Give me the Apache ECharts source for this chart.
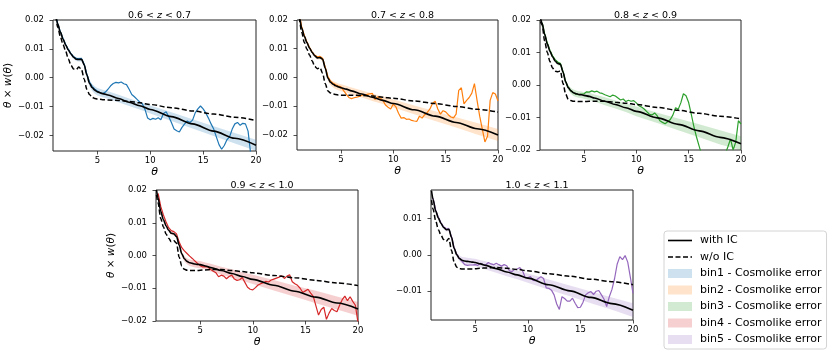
<!DOCTYPE html>
<html><head><meta charset="utf-8">
<script src="https://cdn.jsdelivr.net/npm/echarts@6/dist/echarts.min.js"></script>
<style>html,body{margin:0;padding:0;background:#fff}#c{width:831px;height:356px}</style>
</head><body><div id="c"></div>
<script>
// model theta grid
const T = [0.85,1,1.25,1.5,1.75,2,2.25,2.5,2.75,3,3.25,3.5,3.75,4,4.25,4.5,4.75,5,5.5,6,7,8,9,10,12,14,16,18,20];
// data theta grid
const thetaD = [1,1.25,1.5,1.75, 2,2.25,2.5,2.75, 3,3.25,3.5,3.75, 4,4.25,4.5,4.75, 5,5.25,5.5,5.75,
  6,6.25,6.5,6.75, 7,7.25,7.5,7.75, 8,8.25,8.5,8.75, 9,9.25,9.5,9.75, 10,10.25,10.5,10.75,
  11,11.25,11.5,11.75, 12,12.25,12.5,12.75, 13,13.25,13.5,13.75, 14,14.25,14.5,14.75,
  15,15.25,15.5,15.75, 16,16.25,16.5,16.75, 17,17.25,17.5,17.75, 18,18.25,18.5,18.75,
  19,19.25,19.5,19.75, 20];

const withIC1 = [0.0270,0.0225,0.0186,0.0158,0.0134,0.0113,0.0096,0.0082,0.0071,0.0064,0.0063,0.0064,0.0045,0.0010,-0.0019,-0.0034,-0.0043,-0.0049,-0.0055,-0.0060,-0.0072,-0.0085,-0.0097,-0.0110,-0.0135,-0.0160,-0.0185,-0.0210,-0.0234];
const noIC1   = [0.0265,0.0222,0.0175,0.0142,0.0115,0.0092,0.0065,0.0043,0.0030,0.0029,0.0037,0.0028,-0.0005,-0.0040,-0.0058,-0.0068,-0.0072,-0.0074,-0.0076,-0.0077,-0.0079,-0.0082,-0.0087,-0.0093,-0.0104,-0.0115,-0.0126,-0.0137,-0.0148];
const err1    = [0.0003,0.0003,0.0003,0.0003,0.0004,0.0004,0.0005,0.0005,0.0006,0.0006,0.0007,0.0008,0.0009,0.0010,0.0011,0.0012,0.0013,0.0013,0.0013,0.0013,0.0013,0.0013,0.0013,0.0014,0.0015,0.0016,0.0017,0.0018,0.0019];
const bin1 = [0.0225,0.0187,0.0159,0.0136, 0.0115,0.0098,0.0083,0.0073, 0.0067,0.0066,0.0066,0.0047, 0.0012,-0.0015,-0.0030,-0.0040,
  -0.0046,-0.0052,-0.0055,-0.0050, -0.0040,-0.0028,-0.0020,-0.0016, -0.0018,-0.0015,-0.0021,-0.0024, -0.0040,-0.0058,-0.0066,-0.0075,
  -0.0084,-0.0090,-0.0110,-0.0140, -0.0146,-0.0141,-0.0144,-0.0139, -0.0146,-0.0124,-0.0118,-0.0135, -0.0155,-0.0178,-0.0184,-0.0188,
  -0.0172,-0.0160,-0.0150,-0.0155, -0.0147,-0.0122,-0.0108,-0.0098, -0.0108,-0.0122,-0.0140,-0.0160, -0.0178,-0.0205,-0.0232,-0.0248,
  -0.0235,-0.0215,-0.0205,-0.0178, -0.0160,-0.0155,-0.0165,-0.0158, -0.0160,-0.0185,-0.0265,null, null];

const withIC2 = [0.0240,0.0215,0.0172,0.0143,0.0121,0.0102,0.0087,0.0075,0.0068,0.0069,0.0063,0.0032,-0.0002,-0.0017,-0.0024,-0.0029,-0.0033,-0.0036,-0.0041,-0.0047,-0.0058,-0.0069,-0.0080,-0.0091,-0.0113,-0.0135,-0.0157,-0.0179,-0.0201];
const noIC2   = [0.0235,0.0205,0.0157,0.0122,0.0098,0.0078,0.0057,0.0038,0.0030,0.0034,0.0014,-0.0022,-0.0047,-0.0054,-0.0058,-0.0060,-0.0061,-0.0062,-0.0062,-0.0062,-0.0063,-0.0065,-0.0069,-0.0073,-0.0082,-0.0091,-0.0101,-0.0111,-0.0121];
const err2    = [0.0003,0.0003,0.0003,0.0003,0.0004,0.0004,0.0005,0.0005,0.0006,0.0006,0.0007,0.0008,0.0009,0.0010,0.0011,0.0012,0.0012,0.0012,0.0012,0.0012,0.0012,0.0013,0.0013,0.0014,0.0015,0.0017,0.0018,0.0020,0.0021];
const bin2 = [0.0225,0.0176,0.0146,0.0123, 0.0104,0.0088,0.0077,0.0072, 0.0073,0.0066,0.0036,0.0003, -0.0013,-0.0020,-0.0026,-0.0030,
  -0.0033,-0.0046,-0.0058,-0.0070, -0.0074,-0.0071,-0.0069,-0.0066, -0.0062,-0.0060,-0.0059,-0.0057, -0.0056,-0.0077,-0.0068,-0.0072,
  -0.0080,-0.0096,-0.0104,-0.0110, -0.0093,-0.0103,-0.0125,-0.0142, -0.0140,-0.0146,-0.0145,-0.0150, -0.0152,-0.0153,-0.0135,-0.0142,
  -0.0130,-0.0122,-0.0110,-0.0090, -0.0083,-0.0110,-0.0128,-0.0116, -0.0120,-0.0130,-0.0138,-0.0141, -0.0128,-0.0045,-0.0036,-0.0092,
  -0.0080,-0.0070,-0.0055,-0.0022, -0.0080,-0.0135,-0.0180,-0.0225, -0.0205,-0.0080,-0.0053,-0.0058, -0.0082];

const withIC3 = [0.0205,0.0190,0.0155,0.0126,0.0104,0.0087,0.0074,0.0066,0.0064,0.0040,0.0010,-0.0008,-0.0018,-0.0024,-0.0027,-0.0029,-0.0030,-0.0032,-0.0035,-0.0040,-0.0050,-0.0060,-0.0070,-0.0081,-0.0101,-0.0121,-0.0141,-0.0161,-0.0181];
const noIC3   = [0.0195,0.0185,0.0135,0.0100,0.0072,0.0052,0.0042,0.0041,0.0043,0.0005,-0.0028,-0.0044,-0.0048,-0.0050,-0.0050,-0.0051,-0.0051,-0.0051,-0.0050,-0.0050,-0.0050,-0.0053,-0.0056,-0.0060,-0.0069,-0.0078,-0.0087,-0.0096,-0.0104];
const err3    = [0.0003,0.0003,0.0003,0.0003,0.0004,0.0004,0.0005,0.0005,0.0006,0.0006,0.0007,0.0008,0.0009,0.0010,0.0010,0.0010,0.0010,0.0010,0.0011,0.0011,0.0012,0.0012,0.0013,0.0015,0.0016,0.0018,0.0020,0.0022,0.0023];
const bin3 = [0.0192,0.0157,0.0129,0.0107, 0.0090,0.0078,0.0071,0.0066, 0.0041,0.0010,-0.0007,-0.0018, -0.0024,-0.0028,-0.0030,-0.0028,
  -0.0027,-0.0021,-0.0022,-0.0018, -0.0021,-0.0019,-0.0024,-0.0026, -0.0030,-0.0033,-0.0036,-0.0031, -0.0034,-0.0040,-0.0046,-0.0043,
  -0.0051,-0.0047,-0.0050,-0.0048, -0.0055,-0.0064,-0.0068,-0.0074, -0.0082,-0.0090,-0.0092,-0.0086, -0.0095,-0.0110,-0.0115,-0.0119,
  -0.0113,-0.0106,-0.0092,-0.0070, -0.0075,-0.0055,-0.0027,-0.0033, -0.0054,-0.0090,-0.0128,-0.0160, -0.0188,-0.0215,-0.0240,-0.0255,
  -0.0260,-0.0260,-0.0260,-0.0255, -0.0250,-0.0230,-0.0212,-0.0190, -0.0166,-0.0200,-0.0175,-0.0110, -0.0120];

const withIC4 = [0.0200,0.0175,0.0135,0.0110,0.0091,0.0077,0.0068,0.0066,0.0058,0.0032,0.0005,-0.0010,-0.0018,-0.0022,-0.0024,-0.0026,-0.0027,-0.0028,-0.0032,-0.0037,-0.0046,-0.0055,-0.0064,-0.0073,-0.0091,-0.0109,-0.0127,-0.0145,-0.0163];
const noIC4   = [0.0185,0.0160,0.0113,0.0088,0.0066,0.0053,0.0042,0.0045,0.0038,-0.0005,-0.0032,-0.0042,-0.0045,-0.0046,-0.0046,-0.0046,-0.0046,-0.0045,-0.0044,-0.0043,-0.0043,-0.0046,-0.0049,-0.0053,-0.0061,-0.0068,-0.0076,-0.0084,-0.0092];
const err4    = [0.0003,0.0003,0.0003,0.0003,0.0004,0.0004,0.0005,0.0005,0.0006,0.0006,0.0007,0.0008,0.0009,0.0010,0.0010,0.0011,0.0011,0.0011,0.0011,0.0012,0.0012,0.0013,0.0013,0.0014,0.0016,0.0017,0.0019,0.0020,0.0021];
const bin4 = [0.0190,0.0150,0.0124,0.0103, 0.0085,0.0076,0.0073,0.0066, 0.0041,0.0024,0.0014,0.0006, -0.0002,-0.0009,-0.0017,-0.0024,
  -0.0031,-0.0035,-0.0034,-0.0035, -0.0043,-0.0048,-0.0053,-0.0065, -0.0060,-0.0063,-0.0071,-0.0064, -0.0060,-0.0072,-0.0076,-0.0074,
  -0.0067,-0.0082,-0.0097,-0.0103, -0.0105,-0.0098,-0.0090,-0.0086, -0.0083,-0.0079,-0.0081,-0.0075, -0.0072,-0.0069,-0.0066,-0.0062,
  -0.0070,-0.0063,-0.0059,-0.0080, -0.0086,-0.0091,-0.0100,-0.0113, -0.0108,-0.0103,-0.0115,-0.0125, -0.0154,-0.0182,-0.0165,-0.0158,
  -0.0195,-0.0176,-0.0162,-0.0168, -0.0172,-0.0152,-0.0135,-0.0124, -0.0138,-0.0126,-0.0140,-0.0152, -0.0205];

const withIC5 = [0.0176,0.0152,0.0120,0.0101,0.0086,0.0075,0.0069,0.0070,0.0048,0.0018,0.0000,-0.0010,-0.0015,-0.0017,-0.0018,-0.0019,-0.0020,-0.0021,-0.0025,-0.0029,-0.0038,-0.0047,-0.0055,-0.0064,-0.0082,-0.0099,-0.0117,-0.0134,-0.0152];
const noIC5   = [0.0150,0.0125,0.0093,0.0069,0.0054,0.0042,0.0037,0.0045,0.0012,-0.0020,-0.0034,-0.0038,-0.0039,-0.0039,-0.0039,-0.0039,-0.0039,-0.0038,-0.0037,-0.0036,-0.0035,-0.0037,-0.0040,-0.0044,-0.0052,-0.0059,-0.0067,-0.0074,-0.0082];
const err5    = [0.0003,0.0003,0.0003,0.0003,0.0004,0.0004,0.0005,0.0005,0.0006,0.0006,0.0007,0.0008,0.0009,0.0010,0.0010,0.0010,0.0010,0.0010,0.0010,0.0011,0.0011,0.0012,0.0012,0.0013,0.0014,0.0015,0.0016,0.0017,0.0019];
const bin5 = [0.0155,0.0122,0.0103,0.0088, 0.0077,0.0071,0.0071,0.0050, 0.0019,0.0001,-0.0010,-0.0018, -0.0027,-0.0029,-0.0028,-0.0028,
  -0.0027,-0.0029,-0.0023,-0.0026, -0.0028,-0.0021,-0.0025,-0.0027, -0.0023,-0.0027,-0.0031,-0.0027, -0.0030,-0.0044,-0.0046,-0.0040,
  -0.0039,-0.0035,-0.0044,-0.0062, -0.0063,-0.0060,-0.0070,-0.0071, -0.0065,-0.0060,-0.0065,-0.0091, -0.0092,-0.0097,-0.0110,-0.0135,
  -0.0150,-0.0115,-0.0120,-0.0127, -0.0127,-0.0119,-0.0133,-0.0145, -0.0144,-0.0130,-0.0110,-0.0104, -0.0101,-0.0109,-0.0100,-0.0098,
  -0.0110,-0.0122,-0.0142,-0.0115, -0.0095,-0.0065,-0.0025,-0.0005, -0.0013,-0.0002,-0.0020,-0.0062, -0.0106];

const zBins = [['0.6','0.7'],['0.7','0.8'],['0.8','0.9'],['0.9','1.0'],['1.0','1.1']];
const binNames = ['bin1 - Cosmolike error','bin2 - Cosmolike error','bin3 - Cosmolike error','bin4 - Cosmolike error','bin5 - Cosmolike error'];
const xTicks = [5,10,15,20];
const yTicksA = [-0.02,-0.01,0,0.01,0.02];
const yTicksB = [-0.01,0,0.01];

const FONT = 'DejaVu Sans';
const lineColors = ['#1f77b4','#ff7f0e','#2ca02c','#d62728','#9467bd'];
const bandColors = ['rgba(31,119,180,0.22)','rgba(255,127,14,0.22)','rgba(44,160,44,0.22)','rgba(214,39,40,0.22)','rgba(148,103,189,0.22)'];

const panels = [
  {grid:{left:53,top:20,width:203,height:131}, ymin:-0.0254, ymax:0.02, yt:yTicksA, withIC:withIC1, noIC:noIC1, err:err1, data:bin1, ylabel:true},
  {grid:{left:297,top:20,width:201,height:130}, ymin:-0.0253, ymax:0.02, yt:yTicksA, withIC:withIC2, noIC:noIC2, err:err2, data:bin2, ylabel:false},
  {grid:{left:540,top:20,width:201,height:130}, ymin:-0.02, ymax:0.02, yt:yTicksA, withIC:withIC3, noIC:noIC3, err:err3, data:bin3, ylabel:false},
  {grid:{left:156,top:190,width:202,height:131}, ymin:-0.02, ymax:0.02, yt:yTicksA, withIC:withIC4, noIC:noIC4, err:err4, data:bin4, ylabel:true},
  {grid:{left:431,top:190,width:202,height:130}, ymin:-0.0179, ymax:0.0178, yt:yTicksB, withIC:withIC5, noIC:noIC5, err:err5, data:bin5, ylabel:false}
];

const fmtY = v => (v < 0 ? '\u2212' : '') + Math.abs(v).toFixed(2);
const grids = [], xAxes = [], yAxes = [], series = [], titles = [];
panels.forEach((p, i) => {
  grids.push(Object.assign({show:true, borderColor:'#222', borderWidth:1, backgroundColor:'transparent'}, p.grid));
  xAxes.push({
    gridIndex:i, type:'value', min:0.8, max:20,
    axisLine:{show:false, onZero:false}, splitLine:{show:false},
    axisTick:{show:true, customValues:xTicks, length:3.5, lineStyle:{color:'#222', width:0.8}},
    axisLabel:{customValues:xTicks, fontSize:8.5, color:'#000', margin:5, fontFamily:FONT},
    name:'θ', nameLocation:'middle', nameGap:16,
    nameTextStyle:{fontSize:11, fontStyle:'italic', color:'#000', fontFamily:FONT}
  });
  yAxes.push({
    gridIndex:i, type:'value', min:p.ymin, max:p.ymax,
    axisLine:{show:false, onZero:false}, splitLine:{show:false},
    axisTick:{show:true, customValues:p.yt, length:3.5, lineStyle:{color:'#222', width:0.8}},
    axisLabel:{customValues:p.yt, fontSize:8.5, color:'#000', margin:9, fontFamily:FONT, formatter:fmtY},
    name: p.ylabel ? '{i|θ} × {i|w}({i|θ})' : '', nameLocation:'middle', nameGap:36, nameRotate:90,
    nameTextStyle:{fontSize:10.5, color:'#000', fontFamily:FONT, rich:{i:{fontSize:10.5, fontStyle:'italic', fontFamily:FONT, color:'#000'}}}
  });
  const cx = p.grid.left + p.grid.width/2;
  titles.push({
    text: zBins[i][0] + ' < {i|z} < ' + zBins[i][1], left: cx, top: p.grid.top - 14, textAlign:'center',
    textStyle:{fontSize:9.5, fontWeight:'normal', color:'#000', fontFamily:FONT,
      rich:{i:{fontSize:9.5, fontStyle:'italic', fontFamily:FONT, color:'#000'}}}
  });
  const common = {xAxisIndex:i, yAxisIndex:i, animation:false};
  // error band drawn as polygon through the axis scales
  series.push(Object.assign({}, common, {
    type:'custom', name: binNames[i], z:1, silent:true,
    data: [[T[0], p.withIC[0]]],
    itemStyle:{color:bandColors[i]},
    renderItem: (params, api) => {
      const lo = T.map((t,k) => api.coord([t, p.withIC[k] - p.err[k]]));
      const hi = T.map((t,k) => api.coord([t, p.withIC[k] + p.err[k]])).reverse();
      const pts = echarts.graphic.clipPointsByRect(lo.concat(hi), params.coordSys);
      return {type:'polygon', shape:{points:pts, smooth:0}, style:{fill:bandColors[i]}};
    }
  }));
  series.push(Object.assign({}, common, {
    type:'line', z:2, symbol:'none',
    data: thetaD.map((t,k) => [t, p.data[k]]),
    lineStyle:{color:lineColors[i], width:1.2}, itemStyle:{color:lineColors[i]}
  }));
  series.push(Object.assign({}, common, {
    type:'line', name:'with IC', z:3, symbol:'none', smooth:0.3, smoothMonotone:'x',
    data: T.map((t,k) => [t, p.withIC[k]]),
    lineStyle:{color:'#000', width:1.6}, itemStyle:{color:'#000'}
  }));
  series.push(Object.assign({}, common, {
    type:'line', name:'w/o IC', z:3, symbol:'none', smooth:0.3, smoothMonotone:'x',
    data: T.map((t,k) => [t, p.noIC[k]]),
    lineStyle:{color:'#000', width:1.5, type:[5,2.5]}, itemStyle:{color:'#000'}
  }));
});

const legendData = [
  {name:'with IC', icon:'path://M0,0H24V1.6H0Z', itemStyle:{color:'#000'}},
  {name:'w/o IC', icon:'path://M0,0H5V1.6H0Z M7.5,0H12.5V1.6H7.5Z M15,0H20V1.6H15Z M22.5,0H24V1.6H22.5Z', itemStyle:{color:'#000'}}
].concat(binNames.map((n,i) => ({name:n, icon:'rect', itemStyle:{color:bandColors[i]}})));

const chart = echarts.init(document.getElementById('c'), null, {renderer:'canvas'});
chart.setOption({
  animation:false,
  backgroundColor:'#fff',
  title: titles,
  grid: grids, xAxis: xAxes, yAxis: yAxes, series: series,
  legend: {
    data: legendData, orient:'vertical', left:664, top:231,
    itemWidth:24, itemHeight:9, itemGap:5.5,
    backgroundColor:'#fff', borderColor:'#d4d4d4', borderWidth:1, borderRadius:3,
    padding:[4,5,4,4],
    textStyle:{fontSize:11, color:'#000', fontFamily:FONT, padding:[0,0,0,3]},
    selectedMode:false
  }
});
</script></body></html>
